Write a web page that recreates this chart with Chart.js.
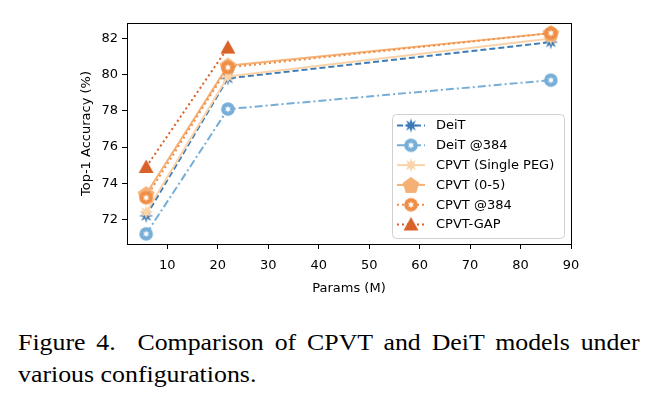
<!DOCTYPE html>
<html lang="en">
<head>
  <meta charset="UTF-8">
  <title>CPVT vs DeiT</title>
  <script src="https://cdn.jsdelivr.net/npm/chart.js"></script>
  <style>
    body { margin: 0; background: #fff; width: 656px; height: 398px; overflow: hidden; }
    #wrap { position: absolute; left: 0; top: 0; width: 656px; height: 300px; }
    #caption {
      position: absolute; left: 18px; top: 326px; width: 565px;
      font-family: 'Liberation Serif', 'Times New Roman', serif;
      font-size: 23.5px; line-height: 32px; color: #000;
      transform: scaleX(1.1); transform-origin: left top;
    }
    #caption .l1 { text-align: justify; text-align-last: justify; white-space: nowrap; }
  </style>
</head>
<body>
  <div id="wrap"><canvas id="chart" width="656" height="300"></canvas></div>
  <div id="caption">
    <div class="l1">Figure 4.&nbsp; Comparison of CPVT and DeiT models under</div>
    <div>various configurations.</div>
  </div>

  <script>
    // data (params in M, top-1 accuracy in %)
    const params = [5.8, 22, 86];
    const gapParams = [5.8, 22];
    const deit = [72.2, 79.8, 81.8];
    const deit384 = [71.2, 78.1, 79.7];
    const cpvtSinglePeg = [72.4, 79.9, 82.0];
    const cpvt05 = [73.4, 80.5, 82.3];
    const cpvt384 = [73.2, 80.4, 82.3];
    const cpvtGap = [74.9, 81.5];
    const xTicks = [10, 20, 30, 40, 50, 60, 70, 80, 90];
    const yTicks = [72, 74, 76, 78, 80, 82];

    // marker images
    function marker(type, color) {
      const c = document.createElement('canvas');
      c.width = 20; c.height = 20;
      const g = c.getContext('2d');
      g.translate(10, 10);
      g.fillStyle = color;
      g.beginPath();
      if (type === 'burst') {
        for (let i = 0; i < 16; i++) {
          const r = i % 2 ? 3.2 : 7.2;
          const a = i * Math.PI / 8 - Math.PI / 2;
          g.lineTo(r * Math.cos(a), r * Math.sin(a));
        }
        g.closePath(); g.fill();
      } else if (type === 'ringstar') {
        g.arc(0, 0, 6.8, 0, Math.PI * 2); g.fill();
        g.fillStyle = '#fff';
        g.beginPath();
        for (let i = 0; i < 12; i++) {
          const r = i % 2 ? 1.6 : 3.6;
          const a = i * Math.PI / 6 - Math.PI / 2;
          g.lineTo(r * Math.cos(a), r * Math.sin(a));
        }
        g.closePath(); g.fill();
      } else if (type === 'pentagon') {
        for (let i = 0; i < 5; i++) {
          const a = i * 2 * Math.PI / 5 - Math.PI / 2;
          g.lineTo(8.8 * Math.cos(a), 8.8 * Math.sin(a) + 0.8);
        }
        g.closePath(); g.fill();
      } else if (type === 'triangle') {
        g.moveTo(0, -7.5); g.lineTo(7.5, 6); g.lineTo(-7.5, 6);
        g.closePath(); g.fill();
      }
      return c;
    }

    function series(label, xs, ys, color, dash, mk, i) {
      return {
        label,
        data: xs.map((x, k) => ({ x, y: ys[k] })),
        borderColor: color,
        backgroundColor: color,
        borderWidth: 2,
        borderDash: dash,
        pointStyle: marker(mk, color),
        pointRadius: 7,
        order: 6 - i,
        clip: false
      };
    }

    const datasets = [
      series('DeiT', params, deit, '#3b7bb7', [6, 3], 'burst', 0),
      series('DeiT @384', params, deit384, '#76aed7', [8, 3, 2, 3], 'ringstar', 1),
      series('CPVT (Single PEG)', params, cpvtSinglePeg, '#fbd3a9', [], 'burst', 2),
      series('CPVT (0-5)', params, cpvt05, '#f5b175', [], 'pentagon', 3),
      series('CPVT @384', params, cpvt384, '#ef8f47', [2, 3], 'ringstar', 4),
      series('CPVT-GAP', gapParams, cpvtGap, '#d8622a', [2, 3], 'triangle', 5)
    ];

    // frame + matplotlib-like legend
    const extras = {
      id: 'extras',
      afterDatasetsDraw(chart) {
        const { ctx, chartArea: a } = chart;
        ctx.save();
        ctx.strokeStyle = '#000';
        ctx.lineWidth = 1;
        ctx.strokeRect(a.left + 0.5, a.top + 0.5, a.right - a.left, a.bottom - a.top);
        ctx.restore();
      },
      afterDraw(chart) {
        const { ctx } = chart;
        const bx = 392, by = 114, bw = 172, bh = 124, r = 4;
        ctx.save();
        ctx.fillStyle = 'rgba(255,255,255,0.85)';
        ctx.strokeStyle = '#d0d0d0';
        ctx.lineWidth = 1;
        ctx.beginPath();
        ctx.roundRect(bx + 0.5, by + 0.5, bw, bh, r);
        ctx.fill(); ctx.stroke();
        ctx.font = '13px "DejaVu Sans"';
        ctx.textBaseline = 'middle';
        chart.data.datasets.forEach((ds, i) => {
          const y = 125.5 + i * 19.8;
          ctx.strokeStyle = ds.borderColor;
          ctx.lineWidth = 2;
          ctx.setLineDash(ds.borderDash);
          ctx.beginPath(); ctx.moveTo(397, y); ctx.lineTo(425, y); ctx.stroke();
          ctx.setLineDash([]);
          ctx.drawImage(ds.pointStyle, 411 - 10, y - 10);
          ctx.fillStyle = '#000';
          ctx.fillText(ds.label, 436, y + 0.5);
        });
        ctx.restore();
      }
    };

    Chart.defaults.font.family = '"DejaVu Sans", sans-serif';
    Chart.defaults.font.size = 13;
    Chart.defaults.color = '#000';

    new Chart(document.getElementById('chart'), {
      type: 'line',
      data: { datasets },
      options: {
        responsive: false,
        animation: false,
        layout: { padding: { left: 0, right: 85, top: 23, bottom: 0 } },
        plugins: { legend: { display: false }, tooltip: { enabled: false } },
        scales: {
          x: {
            type: 'linear', min: 2, max: 90,
            afterBuildTicks: s => { s.ticks = xTicks.map(v => ({ value: v })); },
            afterFit: s => { s.height = 56; },
            grid: { drawOnChartArea: false, color: '#000', tickLength: 5 },
            border: { color: '#000' },
            ticks: { padding: 9 },
            title: { display: true, text: 'Params (M)', padding: { top: 0, bottom: 4 } }
          },
          y: {
            min: 70.64, max: 82.86,
            afterBuildTicks: s => { s.ticks = yTicks.map(v => ({ value: v })); },
            afterFit: s => { s.width = 127; },
            grid: { drawOnChartArea: false, color: '#000', tickLength: 5 },
            border: { color: '#000' },
            ticks: { padding: 4 },
            title: { display: true, text: 'Top-1 Accuracy (%)', padding: { top: 79, bottom: 0 } }
          }
        }
      },
      plugins: [extras]
    });
  </script>
</body>
</html>
